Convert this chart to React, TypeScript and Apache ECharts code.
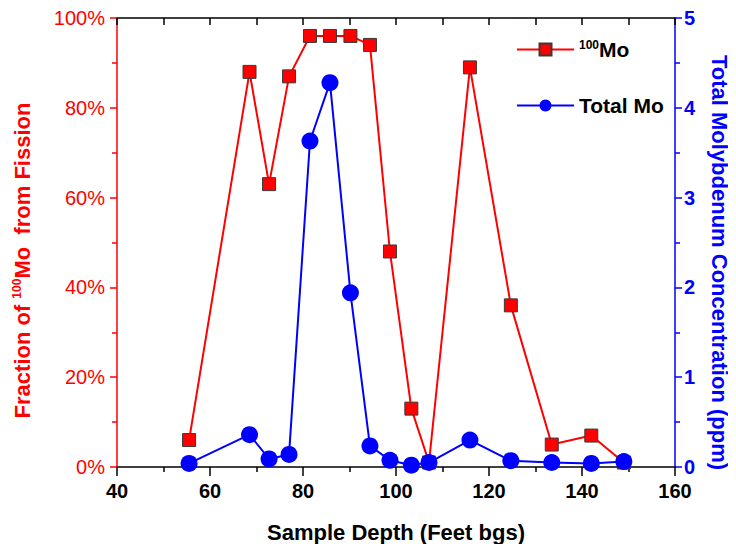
import React, { useEffect, useRef } from "react";
import * as echarts from "echarts";

const depths = [55.5, 68.5, 72.7, 77, 81.5, 85.8, 90.2, 94.4, 98.7, 103.3, 107.1, 115.9, 124.7, 133.5, 142, 149];
const mo100Fraction = [6, 88, 63, 87, 96, 96, 96, 94, 48, 13, 1, 89, 36, 5, 7, 1];
const totalMo = [0.04, 0.36, 0.09, 0.14, 3.63, 4.28, 1.94, 0.235, 0.075, 0.02, 0.05, 0.3, 0.07, 0.05, 0.04, 0.06];
const xTicks = { min: 40, max: 160, interval: 20 };
const leftTicks = { min: 0, max: 100, interval: 20 };
const rightTicks = { min: 0, max: 5, interval: 1 };

const FONT = "'Liberation Sans', Arial, sans-serif";

export default function App() {
  const ref = useRef<HTMLDivElement>(null);
  useEffect(() => {
    if (!ref.current) return;
    const chart = echarts.init(ref.current, undefined, { renderer: "svg" });
    const redData = depths.map((d, i) => [d, mo100Fraction[i]]);
    const blueData = depths.map((d, i) => [d, totalMo[i]]);
    chart.setOption({
      animation: false,
      backgroundColor: "#fff",
      textStyle: { fontFamily: FONT },
      grid: { left: 117, right: 61, top: 18, bottom: 85, outerBoundsMode: "none", containLabel: false },
      legend: {
        orient: "vertical",
        left: 511,
        top: 34,
        itemWidth: 57,
        itemHeight: 15,
        itemGap: 35,
        data: ["100Mo", "Total Mo"],
        formatter: (name: string) =>
          name === "100Mo" ? "{sup|100}{b|Mo}" : "{b|Total Mo}",
        textStyle: {
          color: "#000",
          fontFamily: FONT,
          rich: {
            sup: { fontSize: 12, fontWeight: "bold", fontFamily: FONT, color: "#000", verticalAlign: "top", padding: [0, 0, 9, 0] },
            b: { fontSize: 21, fontWeight: "bold", fontFamily: FONT, color: "#000", verticalAlign: "bottom" },
          },
        },
      },
      xAxis: [
        {
          type: "value",
          position: "bottom",
          min: xTicks.min,
          max: xTicks.max,
          interval: xTicks.interval,
          name: "Sample Depth (Feet bgs)",
          nameLocation: "middle",
          nameGap: 54,
          nameTextStyle: { fontSize: 22, fontWeight: "bold", color: "#000", fontFamily: FONT },
          axisLine: { show: true, onZero: false, lineStyle: { color: "#000", width: 1.5 } },
          axisTick: { show: true, inside: false, length: 9, lineStyle: { color: "#000", width: 1.5 } },
          minorTick: { show: true, splitNumber: 2, length: 5, lineStyle: { color: "#000", width: 1.5 } },
          axisLabel: { fontSize: 20, fontWeight: "bold", color: "#000", margin: 14, fontFamily: FONT },
          splitLine: { show: false },
        },
        {
          type: "value",
          position: "top",
          gridIndex: 0,
          min: xTicks.min,
          max: xTicks.max,
          interval: 10,
          axisLine: { show: true, onZero: false, lineStyle: { color: "#000", width: 1.5 } },
          axisTick: { show: true, inside: true, length: 7, lineStyle: { color: "#000", width: 1.5 } },
          axisLabel: { show: false },
          splitLine: { show: false },
        },
      ],
      yAxis: [
        {
          type: "value",
          position: "left",
          min: leftTicks.min,
          max: leftTicks.max,
          interval: leftTicks.interval,
          name: "{b|Fraction of }{sup|100}{b|Mo  from Fission}",
          nameLocation: "middle",
          nameGap: 84,
          nameTextStyle: {
            color: "#ff0000",
            fontFamily: FONT,
            padding: [0, 36, 0, 0],
            rich: {
              sup: { fontSize: 12, fontWeight: "bold", color: "#ff0000", fontFamily: FONT, verticalAlign: "top", padding: [0, 0, 10, 0] },
              b: { fontSize: 22, fontWeight: "bold", color: "#ff0000", fontFamily: FONT, verticalAlign: "bottom" },
            },
            fontSize: 22,
            fontWeight: "bold",
          },
          axisLine: { show: true, onZero: false, lineStyle: { color: "#ff0000", width: 1.5 } },
          axisTick: { show: true, inside: false, length: 7, lineStyle: { color: "#ff0000", width: 1.5 } },
          minorTick: { show: true, splitNumber: 2, length: 5, lineStyle: { color: "#ff0000", width: 1.5 } },
          axisLabel: { formatter: "{value}%", fontSize: 20, color: "#ff0000", margin: 12, fontFamily: FONT },
          splitLine: { show: false },
        },
        {
          type: "value",
          position: "right",
          min: rightTicks.min,
          max: rightTicks.max,
          interval: rightTicks.interval,
          name: "Total Molybdenum Concentration (ppm)",
          nameLocation: "middle",
          nameGap: 33,
          nameRotate: -90,
          nameTextStyle: { fontSize: 22, fontWeight: "bold", color: "#0000ff", fontFamily: FONT, padding: [0, 0, 0, 40] },
          axisLine: { show: true, onZero: false, lineStyle: { color: "#0000ff", width: 1.5 } },
          axisTick: { show: true, inside: false, length: 7, lineStyle: { color: "#0000ff", width: 1.5 } },
          minorTick: { show: true, splitNumber: 2, length: 5, lineStyle: { color: "#0000ff", width: 1.5 } },
          axisLabel: { fontSize: 20, fontWeight: "bold", color: "#0000ff", margin: 9, fontFamily: FONT },
          splitLine: { show: false },
        },
      ],
      series: [
        {
          name: "100Mo",
          type: "line",
          xAxisIndex: 0,
          yAxisIndex: 0,
          data: redData,
          symbol: "rect",
          symbolSize: 13,
          lineStyle: { color: "#ff0000", width: 2 },
          itemStyle: { color: "#ff0000", borderColor: "#3a3a3a", borderWidth: 1 },
          z: 2,
        },
        {
          name: "Total Mo",
          type: "line",
          xAxisIndex: 0,
          yAxisIndex: 1,
          data: blueData,
          symbol: "circle",
          symbolSize: 17,
          lineStyle: { color: "#0000ff", width: 2 },
          itemStyle: { color: "#0000ff" },
          z: 3,
        },
      ],
    });
    return () => chart.dispose();
  }, []);
  return <div ref={ref} style={{ width: 736, height: 552, margin: -8 }} />;
}
